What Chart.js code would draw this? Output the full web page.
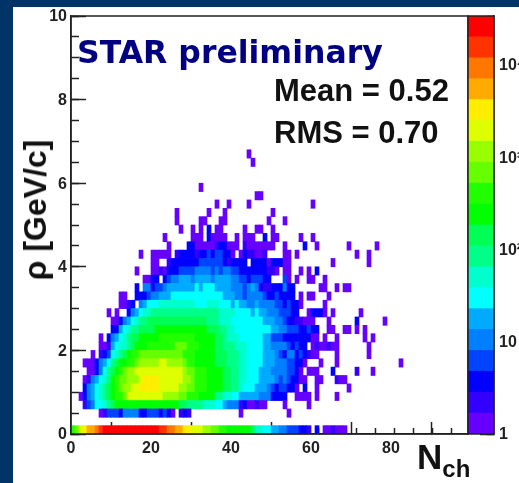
<!DOCTYPE html>
<html>
<head>
<meta charset="utf-8">
<script src="https://cdn.jsdelivr.net/npm/chart.js@4"></script>
<style>
  html, body { margin: 0; padding: 0; background: #003366; overflow: hidden; }
  #stage { position: absolute; left: 0; top: 0; width: 519px; height: 483px; overflow: hidden; filter: blur(0.5px); }
  #panel { position: absolute; left: 13px; top: 7px; width: 506px; height: 476px; background: #fff; }
  canvas { position: absolute; top: 0; }
  #plot { left: 0; }
  #palette { left: 440px; }
  .txt { position: absolute; white-space: nowrap; font-family: "Liberation Sans", sans-serif; font-weight: bold; color: #111; line-height: 1; }
  #star { left: 77px; top: 37px; font-family: "DejaVu Sans", sans-serif; font-size: 31.5px; color: #000080; }
  #mean { left: 274px; top: 75px; font-size: 31px; }
  #rms { left: 274px; top: 117px; font-size: 31px; }
  #ytitle { left: 35px; top: 210px; font-size: 32px; transform: translate(-50%, -50%) rotate(-90deg); }
  #xtitle { left: 417px; top: 439px; font-size: 35px; }
  #xtitle span { font-size: 24px; position: relative; top: 8px; }
</style>
</head>
<body>
<div id="stage">
  <div id="panel"></div>
  <canvas id="plot" width="480" height="483"></canvas>
  <canvas id="palette" width="79" height="483"></canvas>
  <div class="txt" id="star">STAR preliminary</div>
  <div class="txt" id="mean">Mean = 0.52</div>
  <div class="txt" id="rms">RMS = 0.70</div>
  <div class="txt" id="ytitle">ρ [GeV/c]</div>
  <div class="txt" id="xtitle">N<span>ch</span></div>
</div>
<script>
// colour band of every filled cell, one list per 0.2 wide rho row
// each piece is [first Nch bin, band, band, ...]
const row00 = [[0,12,13,15,16,17,17,18,19,20,20,20,20,20,20,20,20,20,20,20,20,20,20,19,19,18,18,17,17,16,16,15,15,15,14,14,13,13,12,12,11,11,11,11,11,11,10,8,8,7,7,6,6,5,5,4,4,4,3,3,2],[61,3],[63,1,1,2,1,1,1]];
const row01 = [];
const row02 = [[7,1,2,4,4,4,3,5,5,5,5,3,3,4,4,4,3,4,3,1],[27,2,3,2],[42,1],[54,1]];
const row03 = [[3,2,4,5,7,7,8,9,10,11,11,11,11,11,11,11,11,11,11,11,11,11,11,11,11,10,10,9,9,9,9,8,8,8,7,7,6,5,5,5,2,3,1,1,2,1,1],[53,1],[59,1]];
const row04 = [[2,1,3,5,6,7,8,9,10,11,12,12,13,15,15,15,15,15,15,15,15,15,14,14,14,14,13,13,12,12,12,11,11,11,11,9,9,8,8,7,7,6,6,6,6,6,5,5,5,3,3,3,3],[56,1,1,1,1],[61,1],[66,1]];
const row05 = [[3,3,5,6,7,8,9,10,11,12,13,14,14,15,15,16,16,16,16,16,15,15,15,15,15,14,14,13,13,12,12,12,11,11,11,11,10,10,9,9,8,7,7,7,6,6,6,5,4,3,4,4,3,3,1],[58,3],[61,1],[69,1]];
const row06 = [[3,1,2,5,6,7,8,9,11,12,13,13,14,14,14,15,16,16,16,16,15,15,15,15,15,15,14,14,13,12,12,12,11,11,11,11,10,10,9,9,8,8,7,7,7,6,6,6,6,5,4,5,4,3,3,1,1],[61,1,1],[66,2,1,1]];
const row07 = [[4,1,1,3,5,7,9,10,11,12,13,14,14,15,15,15,15,15,15,15,15,15,15,15,15,14,13,13,12,12,12,11,11,11,11,10,10,9,9,8,8,7,7,7,6,6,6,5,5,5,5,4,4,3,1],[59,1,1,1],[65,3],[71,2],[75,1]];
const row08 = [[3,1,1,1,3,5,6,7,9,10,11,11,12,12,13,14,14,14,14,14,15,15,14,14,14,14,13,12,12,11,11,11,11,11,10,10,10,9,9,9,8,8,7,7,7,7,6,6,6,5,5,5,4,4,3,3,1],[62,1],[66,1],[82,1]];
const row09 = [[5,1],[7,2,3,4,7,8,9,10,11,12,12,13,13,13,13,13,13,13,13,13,13,13,12,12,12,11,11,11,11,11,10,10,10,9,9,9,8,8,7,7,7,7,6,6,6,5,4,3,5,5,3,4,3,2,1,1],[66,1],[74,1]];
const row10 = [[7,1,1,2,6,7,8,8,9,10,11,11,11,12,12,12,12,12,12,12,13,13,13,12,12,12,11,11,11,11,10,10,9,9,9,8,8,8,7,7,7,7,6,6,5,5,5,5,4,3,4,3,3],[60,1,2,1,1,2,1,1],[74,1]];
const row11 = [[7,1],[9,3,5,6,7,8,9,10,10,11,11,11,11,11,12,12,12,12,12,12,12,12,12,11,11,11,11,11,10,10,9,8,8,8,7,7,7,7,7,7,6,6,4,4,4,3,3,3,3,3,3,3,1,1],[63,1],[66,1],[73,1],[75,1]];
const row12 = [[10,3,3,6,7,8,9,9,10,10,10,10,11,11,11,11,11,11,11,11,11,11,11,11,11,10,10,10,9,9,8,8,7,7,7,7,7,7,7,7,7,6,6,5,5,4,4,4,3,3,4,3,3],[64,1,1],[68,1,1],[71,1],[73,1]];
const row13 = [[10,1,1,3,5,6,7,8,9,9,10,10,10,10,10,10,10,10,10,10,10,10,10,10,10,9,9,9,8,8,8,7,7,7,7,7,7,7,7,6,6,6,5,5,4,3,3,2,2,1,1,1],[64,1],[71,3],[78,1]];
const row14 = [[9,1],[11,1],[14,3,5,6,7,8,8,9,9,9,9,9,9,9,9,9,9,9,9,9,9,9,9,9,8,8,8,8,7,7,7,7,6,7,6,6,5,5,5,4,4,4,3,3],[59,1,3,3,3,1],[65,1],[72,1]];
const row15 = [[12,1,1,2,3],[17,5,6,7,7,7,8,8,8,8,8,8,8,8,8,7,7,7,8,8,8,7,7,7,6,7,6,6,5,5,6,5,5,5,5,4,4,3,4,3,3,1],[63,1]];
const row16 = [[12,1,1],[16,3,3,3,4,5,5,6,6,6,7,7,7,7,7,7,7,7,7,7,7,7,7,6,6,6,5,5,4,5,5,5,5,4,3,3,4,3,3,3,3],[57,1],[59,1,1],[64,1]];
const row17 = [[16,3],[18,5,5,3,4,4,5,6,6,6,6,6,6,6,7,6,7,7,7,6,6,6,6,5,5,5,4,5,6,5,3,2,2,3,3,3,5,3,3],[62,1,1],[66,1],[68,1,1]];
const row18 = [[18,1,1,3,3],[23,3,4,5,5,6,6,6,5,6,6,6,6,5,6,6,6,6,5,5,4,4,3,4,4,4,3,3],[53,4,1],[56,1],[59,1,1],[63,1]];
const row19 = [[16,1],[20,1,1,2,1,3,3,3,4,4,4,4,5,5,5,5,4,5,4,5,5,4,4,3,3,3,3,3,3,3,2,2,1],[53,1,1],[57,1],[59,1],[61,3]];
const row20 = [[20,1,1],[24,2,3,3,3,3,3,3,3,4,4,4,4,4,4,3,2,3,3,3,3],[45,3,3,3,3,1,3,3,3,1,1],[65,1],[74,1]];
const row21 = [[17,1],[20,1,1,1,1,1],[26,2,3,3,3,3,2,3,3,4,3,4,4,3,3,1],[42,1,3,2,2,1,1,2],[53,1,1],[56,1],[71,1],[74,1]];
const row22 = [[24,1],[29,3,3,1,1,1,1,1,2,3,3,1,1,1],[43,2,1,1,1,1,1,1,1],[53,1],[58,3],[61,1],[69,1],[76,1]];
const row23 = [[23,1],[30,1,1,1],[34,3,1,1,1,1],[41,1],[43,1,1,1],[48,3],[50,1,1],[57,1],[60,1]];
const row24 = [[27,1],[30,1],[32,1],[34,3],[36,1,1],[43,1],[46,1,1],[50,1]];
const row25 = [[26,1],[32,1,1],[37,1,1],[49,1],[53,1]];
const row26 = [[26,1],[34,1],[38,1],[50,1]];
const row27 = [[36,1],[39,1],[44,1],[60,1]];
const row28 = [[46,1,1]];
const row29 = [[32,1]];
const row30 = [];
const row31 = [];
const row32 = [[45,1]];
const row33 = [[44,1]];
const allRows = [row00,row01,row02,row03,row04,row05,row06,row07,row08,row09,row10,row11,row12,row13,row14,row15,row16,row17,
  row18,row19,row20,row21,row22,row23,row24,row25,row26,row27,row28,row29,row30,row31,row32,row33];

// palette bands, bottom to top, with their count edges on the z axis
const bandColors = ['#6600ff','#3300ff','#0000ff','#0044ff','#0080ff','#00aaff','#00ffff','#00ffcc','#00ff88','#00ff55',
  '#00ff00','#22ff00','#66ff00','#99ff00','#ddff00','#ffee00','#ffaa00','#ff7700','#ff3300','#ff0000'];
const bandEdges = [1,1.68,2.84,4.78,8.05,13.6,22.8,38.5,64.8,109,184,310,522,879,1480,2493,4198,7070,11900,20060,33790];
const zTickValues = [1,10,100,1000,10000];
const zTickLabels = ['1','10','10²','10³','10⁴'];

const inkColor = '#222';
Chart.defaults.font.family = '"Liberation Sans", sans-serif';
Chart.defaults.font.weight = 'bold';
Chart.defaults.font.size = 16;
Chart.defaults.color = inkColor;
Chart.defaults.animation = false;

const frameBorder = {
  id: 'frameBorder',
  afterDraw(chart) {
    const { ctx, chartArea: a } = chart;
    ctx.save();
    ctx.strokeStyle = inkColor;
    ctx.lineWidth = 1.5;
    ctx.strokeRect(a.left, a.top, a.right - a.left, a.bottom - a.top);
    ctx.restore();
  }
};

const cellHeight = 0.2;
const datasets = [];
allRows.forEach((pieces, k) => {
  const data = [];
  const colors = [];
  pieces.forEach(piece => {
    piece.slice(1).forEach((band, i) => {
      data.push({ x: piece[0] + i + 0.5, y: [k * cellHeight, (k + 1) * cellHeight] });
      colors.push(bandColors[band - 1]);
    });
  });
  if (data.length) datasets.push({ data, backgroundColor: colors, barPercentage: 1, categoryPercentage: 1, grouped: false });
});

function axisLine(tickLength) {
  return { drawOnChartArea: false, color: inkColor, tickColor: inkColor, tickWidth: 1.5, tickLength };
}
const axisBorder = { color: inkColor, width: 1.5 };

// the ticks point inward, so the tick padding must not push the chart area in
function fixHeight(h) {
  return s => { s.height = h; s.paddingLeft = 0; s.paddingRight = 0; };
}
function fixWidth(w) {
  return s => { s.width = w; s.paddingTop = 0; s.paddingBottom = 0; };
}

new Chart(document.getElementById('plot'), {
  type: 'bar',
  data: { datasets },
  plugins: [frameBorder],
  options: {
    responsive: false,
    layout: { padding: { left: 21, top: 16, right: 12, bottom: 9 } },
    plugins: { legend: { display: false }, tooltip: { enabled: false } },
    scales: {
      x: {
        type: 'linear', min: 0, max: 99.25, offset: false,
        grid: axisLine(-12), border: axisBorder,
        ticks: { stepSize: 20, includeBounds: false, padding: 17, maxRotation: 0, autoSkip: false },
        afterFit: fixHeight(40)
      },
      xMinor: {
        type: 'linear', position: 'bottom', axis: 'x', weight: -1, min: 0, max: 99.25,
        grid: axisLine(-6), border: { display: false },
        ticks: { stepSize: 5, includeBounds: false, display: false, autoSkip: false },
        afterFit: fixHeight(0)
      },
      y: {
        min: 0, max: 10,
        grid: axisLine(-15), border: axisBorder,
        ticks: { stepSize: 2, padding: 19, labelOffset: 1, autoSkip: false },
        afterFit: fixWidth(50)
      },
      yMinor: {
        type: 'linear', position: 'left', axis: 'y', weight: -1, min: 0, max: 10,
        grid: axisLine(-8), border: { display: false },
        ticks: { stepSize: 0.5, display: false, autoSkip: false },
        afterFit: fixWidth(0)
      }
    }
  }
});

new Chart(document.getElementById('palette'), {
  type: 'bar',
  data: {
    labels: ['z'],
    datasets: bandColors.map((c, i) => ({
      data: [[bandEdges[i], bandEdges[i + 1]]],
      backgroundColor: c, barPercentage: 1, categoryPercentage: 1, grouped: false
    }))
  },
  plugins: [frameBorder],
  options: {
    responsive: false,
    layout: { padding: { left: 28, top: 16, right: 0, bottom: 49 } },
    plugins: { legend: { display: false }, tooltip: { enabled: false } },
    scales: {
      x: { display: false },
      y: {
        type: 'logarithmic', position: 'right', min: 1, max: 33790,
        grid: axisLine(-14), border: axisBorder,
        ticks: { padding: 19, labelOffset: 1, autoSkip: false, callback: (v, i) => zTickLabels[i] },
        afterBuildTicks(s) { s.ticks = zTickValues.map(value => ({ value })); },
        afterFit: fixWidth(25)
      },
      yMinor: {
        type: 'logarithmic', position: 'right', axis: 'y', weight: -1, min: 1, max: 33790,
        grid: axisLine(-7), border: { display: false },
        ticks: { display: false, autoSkip: false },
        afterFit: fixWidth(0)
      }
    }
  }
});
</script>
</body>
</html>
